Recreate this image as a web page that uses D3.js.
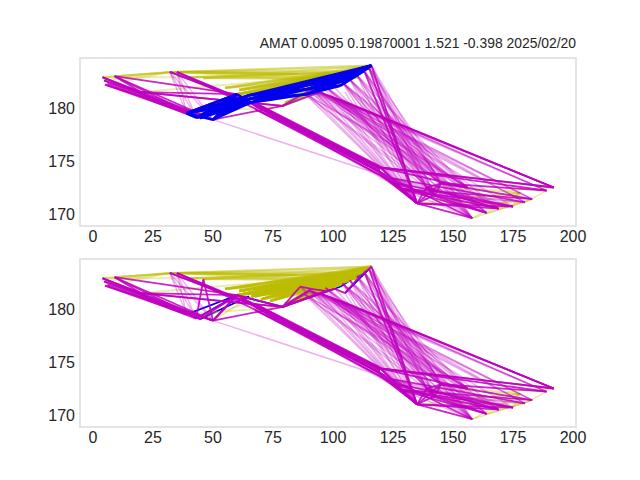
<!DOCTYPE html>
<html><head><meta charset="utf-8">
<style>html,body{margin:0;padding:0;background:#fff}svg{display:block}text{font-family:"Liberation Sans",Arial,sans-serif;fill:#262626}</style>
<script src="https://cdn.jsdelivr.net/npm/d3@7/dist/d3.min.js"></script></head><body><svg id="c" width="640" height="480"></svg>
<script>
const titleText = "AMAT 0.0095 0.19870001 1.521 -0.398 2025/02/20";
const xTicks = [0,25,50,75,100,125,150,175,200];
const yTicks = [170,175,180];
// named nodes: x = bar index, y = price
const nodeNames = ["A","B","C","D","E","F","G","H","I","J","K","M","N","O","P","Q","R","S","T","U","V","W","X","Y","Z","AA",
  "r2","r4","r6","r7","r8","r9","r10","m1","m2","m3","m4","m5","l1","l2","l3",
  "q1","q2","q3","q4","p1","p2","p3","w1","w2","w3","w4","c1","c2","f1","b1","b2","b3","b4","b5","b6",
  "z1","z2","z3","z4","z5","z6","o1","o2","o3",
  "p4","p5","p6","w5","w6","w7","w8","b7","b8","b9","o4","o5","o6","o7","o8","t1","t2","s1"];
const nodeX = [4,9,5,32,35,39,43,50,116,60,79,135,192,189,183,180,175,169,164,158,145,120,156,178,139,142.5,
  88,97,104,107,110,113,115,124,128,150,162,172,20,26,66,
  98.8,94.6,102.9,90.4,68.3,63.3,71.7,119.6,118.8,124.6,121.7,6,4.6,44.6,65.4,65,89,90,103,104,
  86.3,91,96.7,100.8,105,110.4,46,70,108,
  67.5,67.5,67.5,119.6,119.6,119.6,119.6,89.5,65,103.5,61,67.5,73.8,80,55,98.8,85,40];
const nodeY = [182.9,183,182.2,183.4,183.4,179.5,179.1,178.9,184,181.3,180.2,171,172.5,172.2,171.4,171.1,170.7,170.5,170.1,169.6,172.9,174.3,172.5,172,172.5,171.8,
  181.4,182,182.4,182.7,183.1,183.5,183.8,173.4,172.4,171.4,171.2,172.2,181.5,180.7,181.2,
  181.1,181.5,180.8,181.7,180.2,180.75,179.8,174.4,174,173,173.7,182.3,182.6,179.05,180.5,181.2,181.3,182.2,182.1,182.9,
  182.1,181.9,181.7,181.9,181.5,182.9,182.8,180.9,183.2,
  180.5,179.9,180.2,174.5,174,173.7,174.2,181.8,180.85,182.5,181.7,181.2,180.75,180.5,181.9,183.3,183.2,182.9];
const blueTop = ["F-J","F-b2","F-b1","F-b8","G-J","G-b2","G-b1","G-b8","H-J","H-b1","H-b8","H-b2","f1-J","f1-b1","f1-b8","F-G","J-b1","F-H","F-J",
  "b1-b3","b1-b7","b8-b7","b8-b4","b8-b3","b2-b4","b2-b7","b3-b5","b3-b9","b7-b5","b7-b9","b7-b6","b4-b6","b4-b9","b5-I","b6-I","b9-I","b1-I","b2-I","b8-I","b3-I","b4-I","b7-I","b5-r9","b6-r10","b9-r10"];
const blueBottom = ["F-J","G-J","H-J","f1-b2","J-K","K-b5","b5-I","b6-I","b9-I","r9-I","r10-I","z5-I","z6-I","r8-I"];
const oliveUpper = ["A-D","A-E","B-D","B-E","C-D","c2-D","A-s1","D-I","E-I","E-r10","D-r9","E-r9","E-r8","E-z6","E-r7","E-r6","E-t1","E-t2","D-t2","s1-r9","s1-t1","s1-t2","s1-r7","s1-z6","o3-D","l1-o3","o1-I","o1-r9","o1-r8","o1-r7","F-K","G-o2","H-J","H-l3"];
const oliveWedge = ["J-I","J-r10","J-r9","J-r8","J-r7","J-r6","J-z6","J-t1","l3-I","l3-r9","l3-r8","l3-r7","l3-r6","l3-z6","l3-t1","l3-b6","o2-I","o2-r9","o2-r8","o2-r7","o2-t1","K-I","K-r9","K-r7","K-r6","K-t1",
  "o4-I","o4-r10","o4-r9","o4-r8","o4-t1","o5-I","o5-r10","o5-r9","o5-r7","o5-t1","o6-I","o6-r10","o6-r8","o6-r7","o6-t1","o7-I","o7-r9","o7-r8","o7-r6","o8-I","o8-r9","o8-r7","o8-t1"];
const oliveLower = ["M-Y","M-Q","Z-Y","X-Y","U-Y","U-P","T-Y","T-Q","S-Y","S-P","R-Y","Q-O","m3-Y","m4-Y","m5-N"];
const magentaStrong = ["A-H","A-F","A-f1","C-H","C-F","c1-G","c2-H","c2-F","B-H","B-f1","B-l1","A-l1","l1-K","l1-K","l1-J","B-J",
  "E-p2","E-p1","D-p2","D-p1","E-w1","p4-w5","p4-w8","p6-w8","p6-w6","p5-w6","p5-w7","p1-w1","p2-w1","p3-w2","p1-w4","p2-w3","J-w1","J-w4","w1-M","w2-M","w3-M","w4-M","w6-M","w7-M","w5-M",
  "H-J","H-K","G-J","K-q4","K-q2","q4-q3","I-M","r9-M","r10-M","w1-N","w1-O","w1-N","w1-X","q2-N","q3-N","M-Z","M-V","M-AA","Z-V","AA-V","Z-AA","M-R","M-S","M-U","V-O","V-P","m2-T","m2-R","m2-S","m1-U","w3-T","w3-R","m1-Q","m2-P","V-X","Z-S"];
const magentaBottomExtra = ["K-z1","z1-z2","z2-z3","z3-z4","z4-z5","z5-z6","K-z2","K-z3","K-z4","H-o1","H-J","f1-J","G-o1","J-K","J-K","z6-I"];
const magentaFaint = ["H-m1","D-F","D-G","E-F","E-G","D-H","E-H","l1-F","l1-G","l2-H",
  "q1-N","q1-O","q2-O","q2-N","q3-N","q4-O","q4-N","q1-N","q3-O","q2-P","q1-P","q4-P","q3-Q","q2-Q","q1-R","q4-Q",
  "q4-M","q2-M","q1-M","q3-M","q4-V","q2-V","q1-V","q3-V","q4-U","q2-S","q1-T","q3-U","z1-M","z2-M","z1-V","z3-AA","z4-Z","z5-M",
  "r2-M","r2-AA","r2-X","r2-S","r2-U","r4-M","r4-V","r4-X","r4-T","r4-U","r4-AA","r6-M","r6-Z","r6-AA","r6-V","r6-X","r6-U","r6-T","r6-S",
  "r7-M","r7-Z","r7-V","r7-X","r7-U","r7-T","r8-M","r8-Z","r8-V","r8-X","r8-U","r8-AA","r9-Z","r9-V","r9-AA","r9-U","r9-m3","r10-V","r10-AA","r10-Z","r10-U","I-V","I-AA","I-Z",
  "m1-S","m1-T","m1-R","m2-U","m2-Q","Z-R","Z-S","Z-T","V-S","V-T","V-R","AA-U","AA-S","AA-Q","m3-T","m3-U","m3-R","q3-X","q4-X","q1-X","q2-X","p1-m1","p2-m2"];
const panels = [
  {top:58,bottom:226,blue:blueTop,blueFirst:false,extra:[],wedge:0.4},
  {top:259,bottom:427,blue:blueBottom,blueFirst:true,extra:magentaBottomExtra,wedge:0.7}
];
const nodeIndex = new Map(nodeNames.map((n,i)=>[n,i]));
const svg = d3.select("#c");
const left=80,right=576,x0=93,x200=573;
panels.forEach((p)=>{
  const x = d3.scaleLinear().domain([0,200]).range([x0,x200]);
  const y = d3.scaleLinear().domain([170,180]).range([p.bottom-12,p.bottom-118]);
  const g = svg.append("g");
  const line = d3.line().x(d=>x(nodeX[d])).y(d=>y(nodeY[d]));
  const draw = (edges,color,width,opacity)=>{
    g.append("g").selectAll("path").data(edges).join("path")
      .attr("d",e=>line(e.split("-").map(n=>nodeIndex.get(n))))
      .attr("fill","none").attr("stroke",color).attr("stroke-width",width).attr("stroke-opacity",opacity);
  };
  if(p.blueFirst) draw(p.blue,"#0000ee",1.8,1);
  draw(oliveUpper,"#bcbc00",2,0.3);
  draw(oliveWedge,"#bcbc00",2.4,p.wedge);
  draw(oliveLower,"#bcbc00",1.5,0.35);
  draw(magentaFaint,"#bf00bf",1.5,0.3);
  draw(magentaStrong,"#bf00bf",1.8,0.85);
  if(p.extra.length) draw(p.extra,"#bf00bf",1.8,0.9);
  if(!p.blueFirst) draw(p.blue,"#0000ee",2.6,1);
  g.append("rect").attr("x",left).attr("y",p.top).attr("width",right-left).attr("height",p.bottom-p.top)
    .attr("fill","none").attr("stroke","#e4e4e4").attr("stroke-width",2);
  g.append("g").selectAll("text").data(xTicks).join("text")
    .attr("x",d=>x(d)).attr("y",p.bottom+16).attr("text-anchor","middle").attr("font-size",16).text(d=>d);
  g.append("g").selectAll("text").data(yTicks).join("text")
    .attr("x",75).attr("y",d=>y(d)+5.8).attr("text-anchor","end").attr("font-size",16).text(d=>d);
});
svg.append("text").attr("x",576).attr("y",48).attr("text-anchor","end").attr("font-size",13.9).text(titleText);
</script></body></html>
